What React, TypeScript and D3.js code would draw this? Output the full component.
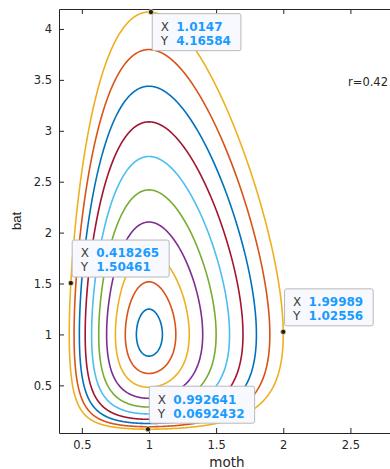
import React, { useEffect, useRef } from 'react';
import * as d3 from 'd3';

const width = 390;
const height = 469;

// each orbit crosses bat = 1 (on its right side) at these moth values
const orbitMoth = [1.1, 1.2, 1.3, 1.4, 1.5, 1.6, 1.7, 1.8, 1.9, 2.0];
const orbitBat = 1;

// data tips shown on the outer orbit
const tipX = [1.0147, 0.418265, 1.99989, 0.992641];
const tipY = [4.16584, 1.50461, 1.02556, 0.0692432];
const tipXText = ['1.0147', '0.418265', '1.99989', '0.992641'];
const tipYText = ['4.16584', '1.50461', '1.02556', '0.0692432'];
const tipSide = ['below', 'above', 'above', 'above'];

const xTicks = [0.5, 1, 1.5, 2, 2.5];
const yTicks = [0.5, 1, 1.5, 2, 2.5, 3, 3.5, 4];
const xLimits = [0.33, 2.835];
const yLimits = [0.032, 4.196];

const note = 'r=0.42';

const colors = ['#0072BD', '#D95319', '#EDB120', '#7E2F8E', '#77AC30', '#4DBEEE', '#A2142F'];

export default function App() {
  const ref = useRef<SVGSVGElement>(null);

  useEffect(() => {
    const svg = d3.select(ref.current);
    svg.selectAll('*').remove();

    const axisColor = '#262626';
    const font = '"DejaVu Sans", sans-serif';

    const x = d3.scaleLinear().domain(xLimits).range([59, 395.4]);
    const y = d3.scaleLinear().domain(yLimits).range([433, 9]);

    // clip for the plot area
    svg
      .append('clipPath')
      .attr('id', 'plotclip')
      .append('rect')
      .attr('x', 59.5)
      .attr('y', 9.5)
      .attr('width', 336)
      .attr('height', 424);

    // conserved quantity of the orbits, weight
    const g = (t: number) => t - Math.log(t) - 1;
    const k = (g(tipY[0]) - g(tipY[2])) / (g(tipX[2]) - g(tipX[0]));

    const nx = 680;
    const ny = 850;
    const sx = (xLimits[1] - xLimits[0]) / nx;
    const sy = (yLimits[1] - yLimits[0]) / ny;
    const fx = d3.range(nx).map(i => k * g(xLimits[0] + (i + 0.5) * sx));
    const fy = d3.range(ny).map(j => g(yLimits[1] - (j + 0.5) * sy));
    const values = new Float64Array(nx * ny);
    for (let j = 0; j < ny; j++) {
      for (let i = 0; i < nx; i++) values[j * nx + i] = -(fx[i] + fy[j]);
    }

    const contours = d3.contours().size([nx, ny]);
    const proj = d3.geoTransform({
      point(px: number, py: number) {
        this.stream.point(x(xLimits[0] + px * sx), y(yLimits[1] - py * sy));
      },
    });
    const path = d3.geoPath(proj);

    const curves = svg.append('g').attr('clip-path', 'url(#plotclip)');
    orbitMoth.forEach((m, i) => {
      const level = -(k * g(m) + g(orbitBat));
      const c = contours.contour(values as any, level);
      curves
        .append('path')
        .attr('d', path(c as any))
        .attr('fill', 'none')
        .attr('stroke', colors[i % colors.length])
        .attr('stroke-width', 1.6)
        .attr('stroke-linejoin', 'round');
    });

    // axes
    const styleAxis = (sel: any) => {
      sel.select('.domain').attr('stroke', axisColor);
      sel.selectAll('.tick line').attr('stroke', axisColor);
      sel
        .selectAll('.tick text')
        .attr('fill', axisColor)
        .attr('font-family', font)
        .attr('font-size', 11.5);
    };

    svg
      .append('g')
      .attr('transform', 'translate(0,433)')
      .call(
        d3
          .axisBottom(x)
          .tickValues(xTicks)
          .tickSize(-5)
          .tickSizeOuter(0)
          .tickPadding(8.3)
          .tickFormat(d => String(d))
      )
      .call(styleAxis);

    svg
      .append('g')
      .attr('transform', 'translate(0,9)')
      .call(
        d3
          .axisTop(x)
          .tickValues(xTicks)
          .tickSize(-5)
          .tickSizeOuter(0)
          .tickFormat(() => '')
      )
      .call(styleAxis);

    svg
      .append('g')
      .attr('transform', 'translate(59,0)')
      .call(
        d3
          .axisLeft(y)
          .tickValues(yTicks)
          .tickSize(-5)
          .tickSizeOuter(0)
          .tickPadding(7)
          .tickFormat(d => String(d))
      )
      .call(styleAxis);

    svg
      .append('g')
      .attr('transform', 'translate(395,0)')
      .call(
        d3
          .axisRight(y)
          .tickValues(yTicks)
          .tickSize(-5)
          .tickSizeOuter(0)
          .tickFormat(() => '')
      )
      .call(styleAxis);

    // axis labels
    svg
      .append('text')
      .attr('x', 227)
      .attr('y', 467)
      .attr('text-anchor', 'middle')
      .attr('font-family', font)
      .attr('font-size', 13.5)
      .attr('fill', axisColor)
      .text('moth');

    svg
      .append('text')
      .attr('transform', 'translate(20.5,221) rotate(-90)')
      .attr('text-anchor', 'middle')
      .attr('font-family', '"Liberation Sans", Arial, sans-serif')
      .attr('font-size', 13)
      .attr('fill', axisColor)
      .text('bat');

    svg
      .append('text')
      .attr('x', 388)
      .attr('y', 85.7)
      .attr('text-anchor', 'end')
      .attr('font-family', font)
      .attr('font-size', 11.5)
      .attr('fill', axisColor)
      .text(note);

    // data tips
    tipX.forEach((tx, i) => {
      const px = x(tx);
      const py = y(tipY[i]);
      const tip = svg.append('g');
      const box = tip
        .append('rect')
        .attr('fill', '#f8f9fe')
        .attr('stroke', '#b8b8b8')
        .attr('stroke-width', 1)
        .attr('rx', 2);
      const boxH = 37;
      const bx = px + 1.3;
      const by = tipSide[i] === 'below' ? py + 1.6 : py - 6 - boxH;
      const rows = [
        ['X', tipXText[i]],
        ['Y', tipYText[i]],
      ];
      let maxW = 0;
      rows.forEach((r, j) => {
        tip
          .append('text')
          .attr('x', bx + 8.5)
          .attr('y', by + 17.3 + j * 14)
          .attr('font-family', font)
          .attr('font-size', 12)
          .attr('fill', '#404040')
          .text(r[0]);
        const t = tip
          .append('text')
          .attr('x', bx + 24)
          .attr('y', by + 17.3 + j * 14)
          .attr('font-family', font)
          .attr('font-size', 12)
          .attr('font-weight', 'bold')
          .attr('fill', '#1a9cff')
          .text(r[1]);
        const w = (t.node() as SVGTextElement).getComputedTextLength();
        if (w > maxW) maxW = w;
      });
      box
        .attr('x', bx)
        .attr('y', by)
        .attr('width', 24 + maxW + 10)
        .attr('height', boxH);
      tip
        .append('circle')
        .attr('cx', px)
        .attr('cy', py)
        .attr('r', 2.6)
        .attr('fill', '#1e1e1e')
        .attr('stroke', '#f3e4a4')
        .attr('stroke-width', 0.8);
    });
  }, []);

  return (
    <svg
      ref={ref}
      width={width}
      height={height}
      style={{ position: 'absolute', left: 0, top: 0, background: '#fff' }}
    />
  );
}
